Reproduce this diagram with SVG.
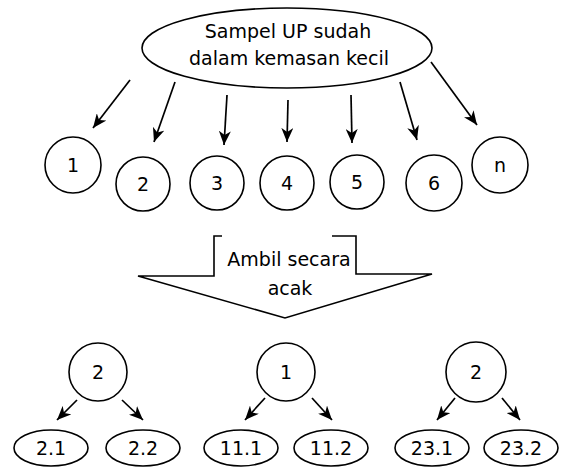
<svg xmlns="http://www.w3.org/2000/svg" width="568" height="471" viewBox="0 0 568 471">
<defs>
<marker id="ah" viewBox="0 0 14 12" refX="14" refY="6" markerWidth="14" markerHeight="12" markerUnits="userSpaceOnUse" orient="auto">
<path d="M0,0 L14,6 L0,12 L4,6 z" fill="#000"/>
</marker>
<style>
.n{fill:#fff;stroke:#000;stroke-width:1.6}
.t{font-family:"DejaVu Sans","Liberation Sans",sans-serif;font-size:19px;fill:#000;text-anchor:middle}
.c line{stroke:#000;stroke-width:1.7;marker-end:url(#ah)}
</style>
</defs>
<rect width="568" height="471" fill="#fff"/>
<g id="source">
<ellipse class="n" cx="287" cy="48" rx="145" ry="40"/>
<text class="t" x="288" y="38">Sampel UP sudah</text>
<text class="t" x="289" y="65">dalam kemasan kecil</text>
</g>
<g id="c1"><circle class="n" cx="73" cy="165" r="28"/><text class="t" x="73" y="172">1</text></g>
<g id="c2"><circle class="n" cx="143" cy="184" r="27"/><text class="t" x="143" y="191">2</text></g>
<g id="c3"><circle class="n" cx="217" cy="183" r="27"/><text class="t" x="217" y="190">3</text></g>
<g id="c4"><circle class="n" cx="287" cy="183" r="27"/><text class="t" x="287" y="190">4</text></g>
<g id="c5"><circle class="n" cx="357" cy="182" r="27"/><text class="t" x="357" y="189">5</text></g>
<g id="c6"><circle class="n" cx="434" cy="183" r="28"/><text class="t" x="434" y="190">6</text></g>
<g id="cn"><circle class="n" cx="500" cy="165" r="28"/><text class="t" x="500" y="172">n</text></g>
<g id="bigarrow">
<path d="M222,236 L214,236 L214,276 L138,276 L285,318 L432,274 L356,274 L356,236 L332,236" fill="#fff" stroke="#000" stroke-width="1.6"/>
<text class="t" x="289" y="266">Ambil secara</text>
<text class="t" x="290" y="295">acak</text>
</g>
<g id="b2"><circle class="n" cx="98" cy="372" r="29"/><text class="t" x="98" y="379">2</text></g>
<g id="b1"><circle class="n" cx="286" cy="372" r="29"/><text class="t" x="286" y="379">1</text></g>
<g id="b3"><circle class="n" cx="476" cy="372" r="30"/><text class="t" x="476" y="379">2</text></g>
<g id="e21"><ellipse class="n" cx="51" cy="448" rx="37" ry="18"/><text class="t" x="51" y="455">2.1</text></g>
<g id="e22"><ellipse class="n" cx="143" cy="448" rx="37" ry="18"/><text class="t" x="143" y="455">2.2</text></g>
<g id="e111"><ellipse class="n" cx="241" cy="448" rx="37" ry="18"/><text class="t" x="241" y="455">11.1</text></g>
<g id="e112"><ellipse class="n" cx="331" cy="448" rx="37" ry="18"/><text class="t" x="331" y="455">11.2</text></g>
<g id="e231"><ellipse class="n" cx="432" cy="448" rx="37" ry="18"/><text class="t" x="432" y="455">23.1</text></g>
<g id="e232"><ellipse class="n" cx="521" cy="448" rx="37" ry="18"/><text class="t" x="521" y="455">23.2</text></g>
<g id="connectors" class="c">
<line x1="130" y1="80" x2="93" y2="128"/>
<line x1="175" y1="82" x2="154" y2="142"/>
<line x1="227" y1="95" x2="224" y2="145"/>
<line x1="288" y1="100" x2="287" y2="142"/>
<line x1="351" y1="95" x2="352" y2="143"/>
<line x1="400" y1="82" x2="417" y2="140"/>
<line x1="431" y1="62" x2="477" y2="125"/>
<line x1="77" y1="400" x2="57" y2="420"/>
<line x1="122" y1="400" x2="143" y2="420"/>
<line x1="265" y1="398" x2="245" y2="420"/>
<line x1="312" y1="398" x2="332" y2="420"/>
<line x1="455" y1="398" x2="437" y2="420"/>
<line x1="502" y1="398" x2="520" y2="420"/>
</g>
</svg>
